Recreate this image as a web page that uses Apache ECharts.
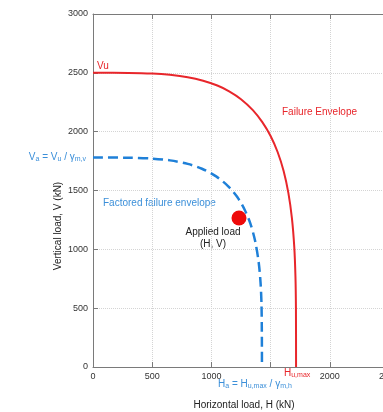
<!DOCTYPE html>
<html>
<head>
<meta charset="utf-8">
<script src="https://cdn.jsdelivr.net/npm/echarts@6/dist/echarts.min.js"></script>
<style>
  html, body { margin: 0; padding: 0; background: #fff; }
  #chart { width: 383px; height: 412px; }
</style>
</head>
<body>
<div id="chart"></div>
<script>
// values (H, V in kN)
const failureH = [0, 300, 500, 650, 800, 930, 1050, 1150, 1250, 1350, 1430, 1500,
  1560, 1610, 1650, 1680, 1700, 1710, 1714, 1715];
const failureV = [2500, 2499, 2494, 2483, 2463, 2433, 2392, 2343, 2276, 2183, 2081, 1963,
  1825, 1666, 1480, 1266, 1019, 765, 500, 0];
const factoredH = [0, 300, 500, 650, 800, 920, 1040, 1140, 1220, 1280, 1330, 1370,
  1400, 1415, 1423, 1426, 1427];
const factoredV = [1780, 1779, 1771, 1756, 1726, 1685, 1620, 1538, 1442, 1338, 1216, 1068,
  884, 718, 538, 300, 0];
const appliedLoad = [1233, 1266];
const hiddenXTicks = [1500];

const red = '#e8262b';
const blue = '#1f80d8';
const labelBlue = '#3b8fd9';
const font = 'Liberation Sans, Arial, sans-serif';

const toPairs = (xs, ys) => xs.map((x, i) => [x, ys[i]]);

const sub = (color) => ({ fontSize: 7, fill: color, fontFamily: font, padding: [5, 0, 0, 0] });
const base = (color) => ({ fontSize: 10, fill: color, fontFamily: font });

const textEl = (text, x, y, color, extra = {}) => ({
  type: 'text',
  x,
  y,
  style: {
    text,
    fill: color,
    font: `10px ${font}`,
    textVerticalAlign: 'middle',
    ...extra,
  },
});

const axisCommon = {
  axisLine: { show: true, lineStyle: { color: '#7a7a7a' } },
  axisTick: { show: true, inside: true, length: 5, lineStyle: { color: '#7a7a7a' } },
};

const chart = echarts.init(document.getElementById('chart'));

const option = {
  animation: false,
  grid: { left: 93, top: 14, bottom: 45, right: -6, outerBoundsMode: 'none', containLabel: false },
  xAxis: [
    {
      type: 'value',
      min: 0,
      max: 2500,
      interval: 500,
      ...axisCommon,
      axisLabel: {
        margin: 5,
        fontSize: 9,
        color: '#333',
        fontFamily: font,
        formatter: (v) => (hiddenXTicks.includes(v) ? '' : String(v)),
      },
      splitLine: { show: true, lineStyle: { color: '#d4d4d4', type: 'dotted' } },
    },
    {
      type: 'value',
      position: 'top',
      min: 0,
      max: 2500,
      interval: 500,
      ...axisCommon,
      axisLabel: { show: false },
      splitLine: { show: false },
    },
  ],
  yAxis: {
    type: 'value',
    min: 0,
    max: 3000,
    interval: 500,
    ...axisCommon,
    axisLabel: { margin: 5, fontSize: 9, color: '#333', fontFamily: font, formatter: (v) => String(v) },
    splitLine: { show: true, lineStyle: { color: '#d4d4d4', type: 'dotted' } },
  },
  series: [
    {
      name: 'Failure Envelope',
      type: 'line',
      data: toPairs(failureH, failureV),
      smooth: 0.3,
      showSymbol: false,
      lineStyle: { color: red, width: 2 },
    },
    {
      name: 'Factored failure envelope',
      type: 'line',
      data: toPairs(factoredH, factoredV),
      smooth: 0.3,
      showSymbol: false,
      lineStyle: { color: blue, width: 2.5, type: [10, 5] },
    },
    {
      name: 'Applied load',
      type: 'scatter',
      data: [appliedLoad],
      symbolSize: 15,
      itemStyle: { color: '#ee0a0a', opacity: 1 },
    },
  ],
  graphic: [
    textEl('Vu', 97, 66, red),
    textEl('Failure Envelope', 282, 112, red),
    textEl('Factored failure envelope', 103, 203, labelBlue),
    textEl('Applied load', 213, 232, '#222', { textAlign: 'center' }),
    textEl('(H, V)', 213, 244, '#222', { textAlign: 'center' }),
    {
      type: 'text',
      x: 86,
      y: 157,
      style: {
        text: '{b|V}{s|a}{b| = V}{s|u}{b| / γ}{s|m,v}',
        textAlign: 'right',
        textVerticalAlign: 'middle',
        rich: { b: base(labelBlue), s: sub(labelBlue) },
      },
    },
    {
      type: 'text',
      x: 284,
      y: 373,
      style: {
        text: '{b|H}{s|u,max}',
        textVerticalAlign: 'middle',
        rich: { b: base(red), s: sub(red) },
      },
    },
    {
      type: 'text',
      x: 218,
      y: 384,
      style: {
        text: '{b|H}{s|a}{b| = H}{s|u,max}{b| / γ}{s|m,h}',
        textVerticalAlign: 'middle',
        rich: { b: base(labelBlue), s: sub(labelBlue) },
      },
    },
    textEl('Horizontal load, H (kN)', 244, 405, '#222', { textAlign: 'center' }),
    {
      type: 'text',
      x: 58,
      y: 226,
      rotation: Math.PI / 2,
      style: {
        text: 'Vertical load, V (kN)',
        fill: '#222',
        font: `10px ${font}`,
        textAlign: 'center',
        textVerticalAlign: 'middle',
      },
    },
  ],
};

chart.setOption(option);
</script>
</body>
</html>
